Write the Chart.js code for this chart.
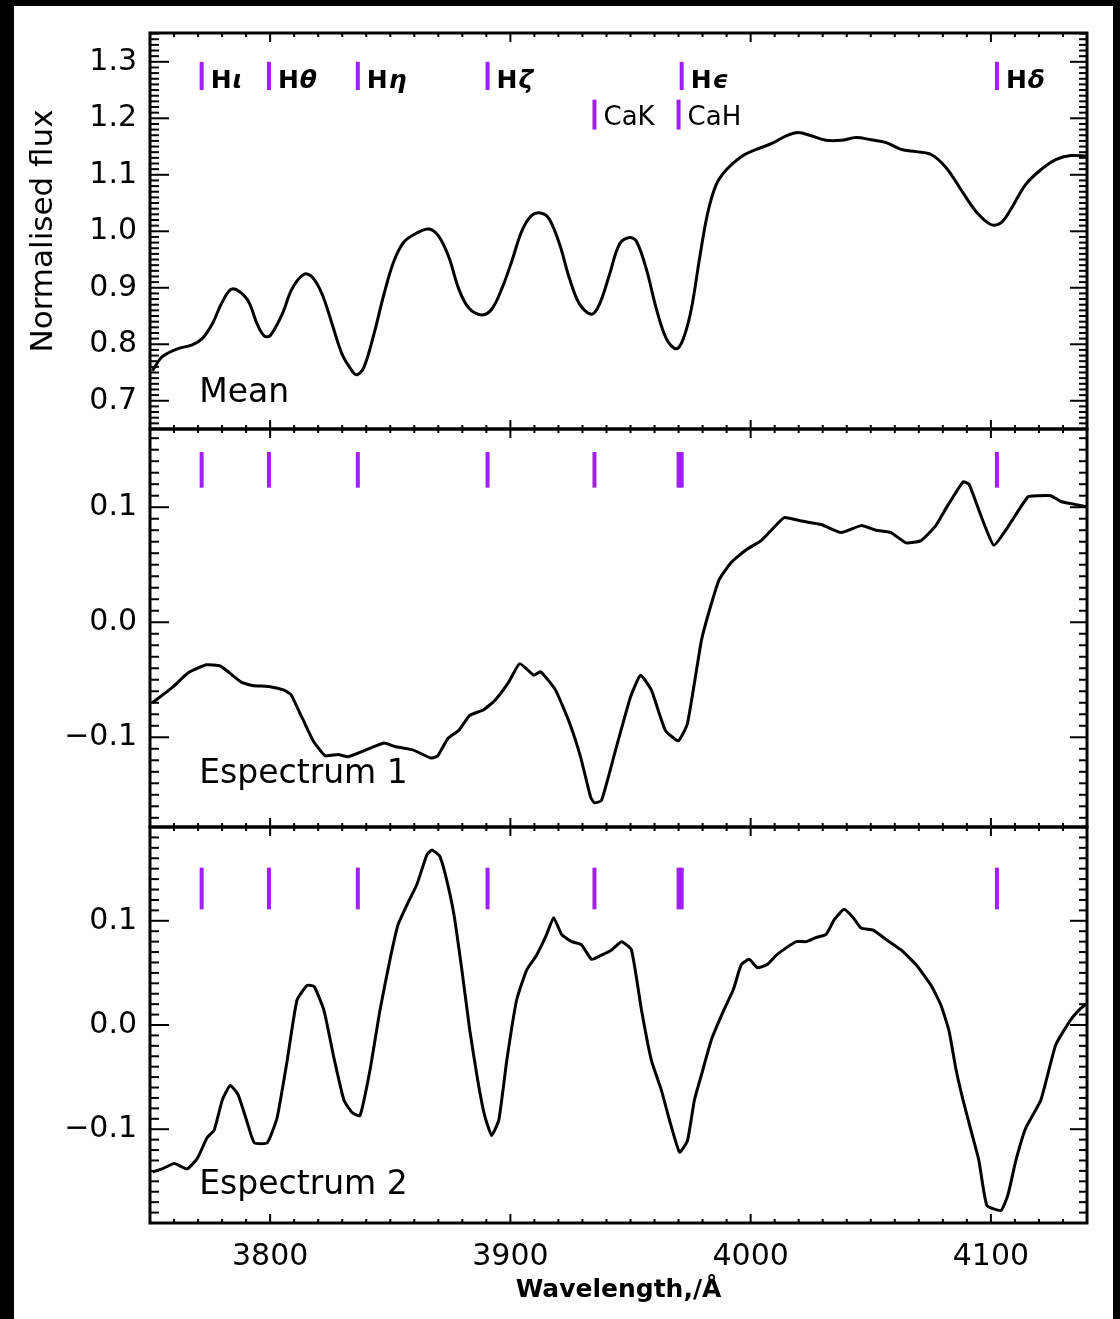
<!DOCTYPE html>
<html>
<head>
<meta charset="utf-8">
<script src="https://cdn.jsdelivr.net/npm/chart.js@4.4.1/dist/chart.umd.min.js"></script>
<style>
  html, body { margin: 0; padding: 0; background: #000; }
  #page { position: relative; width: 1120px; height: 1319px; overflow: hidden; }
  #sheet { position: absolute; left: 14px; top: 6px; width: 1099px; height: 1313px; background: #fff; }
  canvas { position: absolute; left: 0; top: 0; }
</style>
</head>
<body>
<div id="page">
  <div id="sheet"></div>
  <canvas id="meanChart" width="1120" height="1319"></canvas>
  <canvas id="spec1Chart" width="1120" height="1319"></canvas>
  <canvas id="spec2Chart" width="1120" height="1319"></canvas>
</div>
<script>
// wavelengths in Angstrom
const meanWave = [3751.0, 3755.1, 3761.4, 3767.6, 3771.7, 3775.9, 3780.1, 3784.2, 3790.4, 3794.6,
  3797.5, 3800.0, 3805.0, 3809.1, 3814.1, 3817.5, 3821.6, 3825.8, 3829.9, 3834.1,
  3836.1, 3839.1, 3843.2, 3847.4, 3851.5, 3855.7, 3861.1, 3866.1, 3870.2, 3874.4,
  3878.5, 3882.7, 3888.1, 3892.2, 3896.4, 3900.6, 3904.7, 3908.9, 3913.0, 3916.3,
  3920.5, 3924.7, 3928.8, 3933.8, 3937.1, 3941.3, 3945.4, 3949.6, 3952.5, 3956.6,
  3960.8, 3965.0, 3969.1, 3972.0, 3975.3, 3978.7, 3982.0, 3985.7, 3989.9, 3996.1,
  4002.4, 4008.6, 4014.8, 4019.8, 4025.2, 4031.4, 4037.7, 4043.9, 4050.1, 4056.4,
  4062.6, 4068.8, 4075.1, 4081.3, 4087.5, 4093.8, 4100.0, 4104.2, 4108.3, 4114.5,
  4120.8, 4127.0, 4133.2, 4140.3];
const meanFlux = [0.753, 0.778, 0.792, 0.799, 0.810, 0.836, 0.875, 0.898, 0.880, 0.836,
  0.815, 0.815, 0.853, 0.898, 0.924, 0.919, 0.889, 0.836, 0.783, 0.753,
  0.746, 0.760, 0.818, 0.889, 0.947, 0.981, 0.997, 1.004, 0.991, 0.954,
  0.898, 0.864, 0.852, 0.862, 0.898, 0.947, 1.000, 1.028, 1.032, 1.021,
  0.977, 0.915, 0.871, 0.853, 0.871, 0.924, 0.977, 0.989, 0.982, 0.933,
  0.862, 0.809, 0.792, 0.810, 0.862, 0.951, 1.030, 1.083, 1.109, 1.132,
  1.145, 1.155, 1.169, 1.175, 1.169, 1.161, 1.161, 1.166, 1.162, 1.157,
  1.145, 1.141, 1.136, 1.113, 1.074, 1.035, 1.012, 1.015, 1.039, 1.083,
  1.109, 1.127, 1.134, 1.133];

const spec1Wave = [3751.0, 3759.7, 3765.9, 3773.4, 3779.2, 3787.9, 3792.5, 3800.0, 3805.8, 3808.7,
  3813.3, 3817.9, 3822.9, 3828.3, 3832.4, 3839.9, 3847.4, 3851.9, 3859.4, 3866.9,
  3869.8, 3874.0, 3878.5, 3883.1, 3888.9, 3893.5, 3899.3, 3903.9, 3909.7, 3912.6,
  3918.8, 3924.7, 3929.2, 3933.4, 3935.0, 3937.9, 3943.8, 3950.0, 3954.2, 3958.7,
  3964.5, 3969.9, 3973.7, 3979.5, 3982.8, 3986.9, 3991.9, 3998.2, 4004.4, 4008.6,
  4014.0, 4021.1, 4029.4, 4037.7, 4046.0, 4052.2, 4058.4, 4064.7, 4070.9, 4077.1,
  4081.3, 4088.4, 4090.9, 4095.8, 4101.2, 4107.1, 4115.4, 4119.5, 4124.9, 4129.1,
  4136.1, 4140.3];
const spec1Flux = [-0.070, -0.056, -0.044, -0.037, -0.038, -0.052, -0.055, -0.056, -0.059, -0.063,
  -0.083, -0.103, -0.116, -0.115, -0.117, -0.111, -0.105, -0.108, -0.111, -0.118,
  -0.116, -0.101, -0.094, -0.081, -0.076, -0.068, -0.052, -0.036, -0.046, -0.043,
  -0.059, -0.088, -0.117, -0.152, -0.157, -0.155, -0.111, -0.065, -0.046, -0.059,
  -0.094, -0.103, -0.088, -0.016, 0.010, 0.037, 0.052, 0.063, 0.071, 0.080,
  0.091, 0.088, 0.085, 0.078, 0.084, 0.080, 0.078, 0.069, 0.071, 0.084,
  0.099, 0.122, 0.120, 0.093, 0.067, 0.083, 0.109, 0.110, 0.110, 0.105,
  0.102, 0.100];

const spec2Wave = [3751.0, 3755.1, 3760.1, 3765.5, 3769.7, 3773.8, 3776.7, 3780.1, 3783.4, 3786.7,
  3790.4, 3793.4, 3798.8, 3802.9, 3807.1, 3811.2, 3815.4, 3818.3, 3822.4, 3826.6,
  3830.7, 3834.1, 3837.4, 3841.6, 3845.7, 3849.9, 3853.2, 3856.9, 3861.1, 3865.2,
  3867.3, 3870.6, 3873.5, 3876.5, 3879.8, 3883.1, 3886.4, 3889.3, 3892.2, 3895.2,
  3898.5, 3902.6, 3906.8, 3910.9, 3915.1, 3918.0, 3921.3, 3925.5, 3929.6, 3933.8,
  3937.9, 3942.1, 3946.3, 3950.4, 3954.6, 3958.7, 3962.9, 3966.2, 3970.4, 3973.7,
  3976.6, 3979.5, 3983.7, 3988.6, 3992.8, 3996.1, 3999.4, 4002.8, 4006.9, 4010.7,
  4014.8, 4019.0, 4023.1, 4027.3, 4031.4, 4034.8, 4038.9, 4042.7, 4046.0, 4051.0,
  4056.4, 4062.6, 4068.8, 4075.1, 4079.2, 4082.5, 4085.5, 4088.4, 4091.7, 4095.0,
  4098.3, 4104.2, 4107.1, 4110.4, 4114.5, 4120.8, 4127.0, 4133.2, 4137.4, 4140.3];
const spec2Flux = [-0.141, -0.138, -0.133, -0.138, -0.128, -0.108, -0.101, -0.072, -0.058, -0.067,
  -0.093, -0.113, -0.113, -0.089, -0.034, 0.024, 0.038, 0.037, 0.014, -0.032,
  -0.072, -0.084, -0.087, -0.043, 0.014, 0.063, 0.096, 0.115, 0.135, 0.163,
  0.168, 0.162, 0.139, 0.106, 0.053, -0.005, -0.053, -0.087, -0.106, -0.091,
  -0.034, 0.024, 0.053, 0.067, 0.087, 0.103, 0.087, 0.080, 0.077, 0.063,
  0.067, 0.072, 0.080, 0.072, 0.014, -0.034, -0.063, -0.091, -0.122, -0.111,
  -0.072, -0.048, -0.014, 0.013, 0.034, 0.058, 0.063, 0.055, 0.058, 0.067,
  0.074, 0.080, 0.080, 0.084, 0.087, 0.101, 0.111, 0.103, 0.093, 0.091,
  0.082, 0.072, 0.058, 0.038, 0.019, -0.005, -0.043, -0.072, -0.101, -0.130,
  -0.173, -0.178, -0.163, -0.130, -0.099, -0.072, -0.019, 0.005, 0.016, 0.021];

// tick labels
const waveTicks = [3800, 3900, 4000, 4100];
const meanTicks = [0.7, 0.8, 0.9, 1.0, 1.1, 1.2, 1.3];
const specTicks = [-0.1, 0, 0.1];

// spectral lines marked in every panel
const lineNames = ['H', 'H', 'H', 'H', 'H', 'H', 'CaK', 'CaH'];
const lineGreek = ['ι', 'θ', 'η', 'ζ', 'ϵ', 'δ', '', ''];
const lineWaves = [3771.5, 3799.5, 3836.5, 3890.5, 3971.3, 4102.5, 3935.0, 3970.0];
const lineRow = [0, 0, 0, 0, 0, 0, 1, 1];

const FONT = '"DejaVu Sans", "Liberation Sans", sans-serif';
const PURPLE = '#a020f0';

const panelDecor = {
  id: 'panelDecor',
  afterDatasetsDraw(chart, args, opts) {
    const { ctx, chartArea: a, scales: { x, y } } = chart;
    ctx.save();

    // line markers
    ctx.strokeStyle = PURPLE;
    ctx.lineWidth = 4;
    lineWaves.forEach((w, i) => {
      const rng = opts.bars[lineRow[i]];
      const px = x.getPixelForValue(w);
      ctx.beginPath();
      ctx.moveTo(px, y.getPixelForValue(rng[0]));
      ctx.lineTo(px, y.getPixelForValue(rng[1]));
      ctx.stroke();
    });

    // line names (top panel only)
    if (opts.names) {
      ctx.fillStyle = '#000';
      ctx.textBaseline = 'alphabetic';
      ctx.textAlign = 'left';
      lineWaves.forEach((w, i) => {
        let px = x.getPixelForValue(w) + 9;
        const py = y.getPixelForValue(opts.nameBase[lineRow[i]]);
        if (lineGreek[i]) {
          ctx.font = 'bold 25px ' + FONT;
          ctx.fillText(lineNames[i], px, py);
          px += ctx.measureText(lineNames[i]).width + 1;
          ctx.font = 'italic bold 25px ' + FONT;
          ctx.fillText(lineGreek[i], px, py);
        } else {
          ctx.font = '26px ' + FONT;
          ctx.fillText(lineNames[i], px, py);
        }
      });
    }

    // panel caption
    ctx.fillStyle = '#000';
    ctx.font = '33px ' + FONT;
    ctx.textAlign = 'left';
    ctx.textBaseline = 'alphabetic';
    ctx.fillText(opts.caption, x.getPixelForValue(3770.5), y.getPixelForValue(opts.captionAt));

    // frame
    ctx.strokeStyle = '#000';
    ctx.lineWidth = 3;
    ctx.strokeRect(a.left, a.top, a.right - a.left, a.bottom - a.top);

    // inward ticks
    ctx.lineWidth = 2;
    const seg = (x0, y0, x1, y1) => { ctx.beginPath(); ctx.moveTo(x0, y0); ctx.lineTo(x1, y1); ctx.stroke(); };
    for (let k = Math.ceil(x.min / 10); k <= Math.floor(x.max / 10); k++) {
      const px = x.getPixelForValue(k * 10);
      const len = k % 10 === 0 ? 9 : 4;
      seg(px, a.bottom, px, a.bottom - len);
      seg(px, a.top, px, a.top + len);
    }
    const step = 0.01;
    for (let k = Math.ceil(y.min / step - 1e-6); k <= Math.floor(y.max / step + 1e-6); k++) {
      const py = y.getPixelForValue(k * step);
      const major = k % 10 === 0;
      seg(a.left, py, a.left + (major ? 19 : 9), py);
      seg(a.right, py, a.right - (major ? 17 : 8), py);
    }
    ctx.restore();
  }
};

function fluxLabel(v) {
  if (Math.abs(v) < 1e-9) return '0.0';
  return v < 0 ? '\u2212' + (-v).toFixed(1) : v.toFixed(1);
}

function makePanel(id, wave, flux, cfg) {
  return new Chart(document.getElementById(id), {
    type: 'line',
    data: {
      datasets: [{
        data: wave.map((w, i) => ({ x: w, y: flux[i] })),
        borderColor: '#000',
        borderWidth: 3,
        pointRadius: 0,
        tension: cfg.tension,
        fill: false
      }]
    },
    options: {
      responsive: false,
      animation: false,
      devicePixelRatio: 1,
      layout: { padding: { left: 0, right: 33, top: cfg.top, bottom: cfg.bottom } },
      plugins: {
        legend: { display: false },
        tooltip: { enabled: false },
        panelDecor: cfg.decor
      },
      scales: {
        x: {
          type: 'linear',
          min: 3750,
          max: 4140,
          display: cfg.showX,
          grid: { display: false, drawTicks: false },
          border: { display: false },
          afterBuildTicks: s => { s.ticks = waveTicks.map(v => ({ value: v })); },
          ticks: {
            maxRotation: 0,
            autoSkip: false,
            padding: 16,
            color: '#000',
            font: { family: FONT, size: 30 },
            callback: v => String(v)
          },
          title: {
            display: true,
            text: 'Wavelength,/Å',
            color: '#000',
            font: { family: FONT, size: 25, weight: 'bold' },
            padding: { top: 0, bottom: 14 }
          },
          afterFit: s => { if (cfg.showX) s.height = 96; }
        },
        y: {
          min: cfg.ymin,
          max: cfg.ymax,
          grid: { display: false, drawTicks: false },
          border: { display: false },
          afterBuildTicks: s => { s.ticks = cfg.ticks.map(v => ({ value: v })); },
          ticks: {
            autoSkip: false,
            padding: 13,
            color: '#000',
            font: { family: FONT, size: 30 },
            callback: cfg.signed ? fluxLabel : v => v.toFixed(1)
          },
          title: {
            display: !!cfg.yTitle,
            text: cfg.yTitle || '',
            color: '#000',
            font: { family: FONT, size: 31 },
            padding: { top: 25, bottom: 0 }
          },
          afterFit: s => { s.width = 150; }
        }
      }
    },
    plugins: [panelDecor]
  });
}

makePanel('meanChart', meanWave, meanFlux, {
  top: 33, bottom: 890, showX: false, ymin: 0.65, ymax: 1.351, ticks: meanTicks, tension: 0.35,
  yTitle: 'Normalised flux', signed: false,
  decor: { bars: [[1.25, 1.30], [1.18, 1.233]], names: true, nameBase: [1.254, 1.189],
    caption: 'Mean', captionAt: 0.698 }
});

makePanel('spec1Chart', spec1Wave, spec1Flux, {
  top: 429, bottom: 492, showX: false, ymin: -0.178, ymax: 0.168, ticks: specTicks, tension: 0.15,
  signed: true,
  decor: { bars: [[0.117, 0.148], [0.117, 0.148]], names: false,
    caption: 'Espectrum 1', captionAt: -0.140 }
});

makePanel('spec2Chart', spec2Wave, spec2Flux, {
  top: 827, bottom: 0, showX: true, ymin: -0.19, ymax: 0.19, ticks: specTicks, tension: 0.15,
  signed: true,
  decor: { bars: [[0.111, 0.151], [0.111, 0.151]], names: false,
    caption: 'Espectrum 2', captionAt: -0.1625 }
});
</script>
</body>
</html>
